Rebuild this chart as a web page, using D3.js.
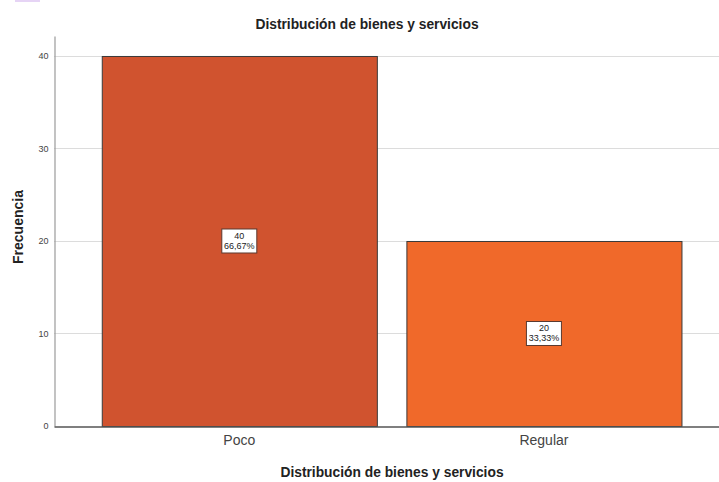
<!DOCTYPE html>
<html>
<head>
<meta charset="utf-8">
<script src="https://cdn.jsdelivr.net/npm/d3@7"></script>
<style>
  html, body { margin: 0; padding: 0; background: #ffffff; }
  svg { display: block; }
</style>
</head>
<body>
<div id="chart"></div>
<script>
const categories = ["Poco", "Regular"];
const frequencies = [40, 20];
const percentLabels = ["66,67%", "33,33%"];
const barColors = ["#D0532F", "#F0692A"];
const yTicks = [0, 10, 20, 30, 40];
const chartTitle = "Distribución de bienes y servicios";
const xTitle = "Distribución de bienes y servicios";
const yTitle = "Frecuencia";

(function () {
const W = 719, H = 482;
const svg = d3.select("#chart").append("svg").attr("width", W).attr("height", H);
const font = "'Liberation Sans', Arial, sans-serif";

// small artifact at top-left of the original
svg.append("rect").attr("x", 15).attr("y", 0).attr("width", 25).attr("height", 2).attr("fill", "#E6D4F5");

const mLeft = 54, mRight = 719, mTop = 36, mBottom = 426;

const y = d3.scaleLinear().domain([0, 42.16]).range([mBottom, mTop]);
const x = d3.scaleBand().domain(categories).range([mLeft, mRight])
  .paddingInner(0.097).paddingOuter(0.14).align(0.56);

// gridlines
svg.append("g").selectAll("line").data(yTicks.filter(d => d > 0)).join("line")
  .attr("x1", mLeft).attr("x2", mRight)
  .attr("y1", d => Math.round(y(d)) + 0.5).attr("y2", d => Math.round(y(d)) + 0.5)
  .attr("stroke", "#dcdcdc").attr("stroke-width", 1);

// y axis
const yAxis = d3.axisLeft(y).tickValues(yTicks).tickSize(0).tickPadding(6).tickFormat(d3.format("d"));
const yg = svg.append("g").attr("transform", `translate(${mLeft + 0.5},0)`).call(yAxis);
yg.select(".domain").attr("stroke", "#9a9a9a").attr("stroke-width", 1.2);
yg.selectAll("text").attr("font-family", font).attr("font-size", 9).attr("fill", "#444");

// bars
svg.append("g").selectAll("rect").data(frequencies).join("rect")
  .attr("x", (d, i) => x(categories[i]) + 0.5)
  .attr("y", d => y(d) + 0.5)
  .attr("width", x.bandwidth())
  .attr("height", d => mBottom - y(d))
  .attr("fill", (d, i) => barColors[i])
  .attr("stroke", "#3a3a3a").attr("stroke-width", 1);

// x axis
const xAxis = d3.axisBottom(x).tickSize(0).tickPadding(9);
const xg = svg.append("g").attr("transform", `translate(0,${mBottom + 0.5})`).call(xAxis);
xg.select(".domain").attr("stroke", "#555").attr("stroke-width", 1.4);
xg.selectAll("text").attr("font-family", font).attr("font-size", 14).attr("fill", "#444");

// value labels
const lab = svg.append("g").selectAll("g").data(frequencies).join("g")
  .attr("transform", (d, i) => `translate(${x(categories[i]) + x.bandwidth() / 2},${y(d / 2)})`);
lab.append("rect").attr("x", -17.5).attr("y", -12).attr("width", 35).attr("height", 24)
  .attr("fill", "#fff").attr("stroke", "#5a3a30").attr("stroke-width", 1);
lab.append("text").attr("y", -2).attr("text-anchor", "middle")
  .attr("font-family", font).attr("font-size", 9).attr("fill", "#222")
  .text(d => d);
lab.append("text").attr("y", 8).attr("text-anchor", "middle")
  .attr("font-family", font).attr("font-size", 9).attr("fill", "#222")
  .text((d, i) => percentLabels[i]);

// titles
svg.append("text").attr("x", 367).attr("y", 29).attr("text-anchor", "middle")
  .attr("font-family", font).attr("font-size", 13.8).attr("font-weight", "bold").attr("fill", "#222")
  .text(chartTitle);
svg.append("text").attr("x", 392).attr("y", 477).attr("text-anchor", "middle")
  .attr("font-family", font).attr("font-size", 13.8).attr("font-weight", "bold").attr("fill", "#222")
  .text(xTitle);
svg.append("text").attr("transform", `translate(23,227) rotate(-90)`)
  .attr("text-anchor", "middle")
  .attr("font-family", font).attr("font-size", 14).attr("font-weight", "bold").attr("fill", "#222")
  .text(yTitle);
})();
</script>
</body>
</html>
